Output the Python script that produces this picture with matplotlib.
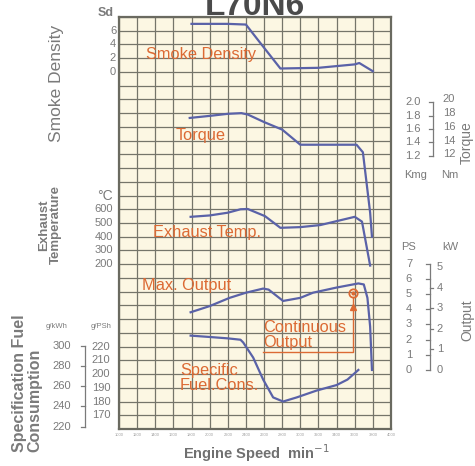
import numpy as np
import matplotlib
matplotlib.use("Agg")
import matplotlib.pyplot as plt
import matplotlib.transforms as mtransforms

plt.rcParams['font.family'] = ['Liberation Sans', 'DejaVu Sans']

# engine speed (min^-1) and values
smoke_rpm = [1800, 2000, 2200, 2400, 2530, 2780, 3200, 3600, 3650, 3800]
smoke_sd = [7.0, 7.0, 7.0, 6.9, 4.7, 0.5, 0.6, 1.1, 1.3, 0.1]

torque_rpm = [1780, 2000, 2200, 2350, 2420, 2600, 2800, 3000, 3620, 3690, 3770, 3790]
torque_nm = [17.3, 17.6, 17.9, 18.0, 17.8, 16.7, 15.6, 13.4, 13.4, 12.3, 3.5, 0.0]

temp_rpm = [1790, 2000, 2200, 2340, 2420, 2610, 2780, 3000, 3220, 3600, 3680, 3770]
temp_c = [545, 555, 575, 600, 602, 550, 465, 470, 485, 545, 510, 190]

output_rpm = [1790, 2000, 2220, 2400, 2590, 2650, 2810, 3000, 3140, 3400, 3640, 3700, 3740, 3770, 3790]
output_kw = [2.8, 3.1, 3.5, 3.75, 3.95, 3.9, 3.35, 3.5, 3.75, 4.0, 4.2, 4.15, 3.5, 2.1, 0.0]

fuel_rpm = [1790, 2000, 2200, 2340, 2370, 2480, 2590, 2700, 2810, 2960, 3180, 3400, 3520, 3640]
fuel_gpsh = [228, 227, 226, 225, 223, 212, 196, 183, 180, 183, 188, 192, 196, 203]

cont_rpm = 3580
cont_kw = 3.75
cont_base_kw = 0.85
cont_left_rpm = 2590

x_ticks = list(range(1000, 4001, 200))
smoke_ticks = [6, 4, 2, 0]
temp_ticks = [600, 500, 400, 300, 200]
kgm_ticks = [2.0, 1.8, 1.6, 1.4, 1.2]
nm_ticks = [20, 18, 16, 14, 12]
ps_ticks = [7, 6, 5, 4, 3, 2, 1, 0]
kw_ticks = [5, 4, 3, 2, 1, 0]
gkwh_ticks = [300, 280, 260, 240, 220]
gpsh_ticks = [220, 210, 200, 190, 180, 170]

W, H = 475, 466
line_c = '#5a62a8'
orange = '#dc6a34'
gray = '#7a7a7a'

fig = plt.figure(figsize=(W / 100, H / 100), dpi=100)
fig.patch.set_facecolor('white')

def fx(px):
    return px / W

def fy(py):
    return 1 - py / H

gl, gr, gt, gb = 119, 391, 17, 429
ax = fig.add_axes([fx(gl), fy(gb), (gr - gl) / W, (gb - gt) / H])
ax.set_facecolor('#fcf7e3')
ax.set_xlim(1000, 4000)
ax.set_ylim(0, 30)
ax.set_xticks(x_ticks)
ax.set_yticks(range(0, 31))
ax.grid(True, color='#75756a', lw=0.9)
ax.set_axisbelow(True)
ax.tick_params(length=0, labelleft=False)
ax.set_xticklabels([str(t) for t in x_ticks], fontsize=3, color='#a0a0a0')
ax.tick_params(axis='x', pad=3)
for s in ax.spines.values():
    s.set_color('#6a6a60')
    s.set_linewidth(1.6)


def overlay(lo, hi):
    a = ax.twinx()
    a.set_ylim(lo, hi)
    a.set_xlim(1000, 4000)
    a.axis('off')
    return a

# each scale mapped onto the grid rows
ax_s = overlay(-52, 8)          # smoke: row 26 = 0, 2 per row
ax_t = overlay(-28, 32)         # torque Nm: row 14 = 0
ax_e = overlay(-1000, 2000)     # exhaust degC: row 10 = 0
ax_o = overlay(-4.3 / 1.5, (30 - 4.3) / 1.5)  # output kW
ax_f = overlay(160, 460)        # fuel g/PSh

for a, xs, ys in [(ax_s, smoke_rpm, smoke_sd), (ax_t, torque_rpm, torque_nm),
                  (ax_e, temp_rpm, temp_c), (ax_o, output_rpm, output_kw),
                  (ax_f, fuel_rpm, fuel_gpsh)]:
    a.plot(xs, ys, color=line_c, lw=1.6, solid_joinstyle='round', clip_on=False)

# continuous output marker
ax_o.plot([cont_left_rpm, cont_rpm, cont_rpm], [cont_base_kw, cont_base_kw, cont_kw - 0.2],
          color=orange, lw=1.0)
ax_o.plot([cont_rpm], [3.05], marker='^', ms=5, color=orange)
ax_o.plot([cont_rpm], [cont_kw], marker='o', ms=6, mfc='none', mec=orange, mew=1.3)
ax_o.plot([cont_rpm], [cont_kw], marker='o', ms=2, color=orange)

# orange curve labels
lab = dict(color=orange, fontsize=11.8)
ax_s.text(1904, 2.6, 'Smoke Density', ha='center', va='center', **lab)
ax_t.text(1904, 14.8, 'Torque', ha='center', va='center', **lab)
ax_e.text(1970, 428, 'Exhaust Temp.', ha='center', va='center', **lab)
ax_o.text(1750, 4.1, 'Max. Output', ha='center', va='center', **lab)
ax_o.text(2590, 0.95, 'Continuous\nOutput', ha='left', va='bottom', linespacing=1.0, **lab)
ax_f.text(1673, 197, 'Specific\nFuel.Cons.', ha='left', va='center', linespacing=1.0, **lab)


def xa(px):
    return (px - gl) / (gr - gl)


num = dict(fontsize=8, color=gray, ha='center', va='center')

def tick_labels(a, px, vals, texts=None, conv=1.0):
    tr = mtransforms.blended_transform_factory(ax.transAxes, a.transData)
    for i, v in enumerate(vals):
        t = texts[i] if texts else str(v)
        a.text(xa(px), v * conv, t, transform=tr, clip_on=False, **num)


def bracket(a, px, top, bot, lticks, rticks=()):
    tr = mtransforms.blended_transform_factory(ax.transAxes, a.transData)
    a.plot([xa(px), xa(px)], [bot, top], transform=tr, color=gray, lw=0.9, clip_on=False)
    for v in lticks:
        a.plot([xa(px - 4), xa(px)], [v, v], transform=tr, color=gray, lw=0.9, clip_on=False)
    for v in rticks:
        a.plot([xa(px), xa(px + 3)], [v, v], transform=tr, color=gray, lw=0.9, clip_on=False)

# left scales
tick_labels(ax_s, 113, smoke_ticks)
tick_labels(ax_e, 104, temp_ticks)
tick_labels(ax_f, 62, gkwh_ticks, conv=0.7355)
tick_labels(ax_f, 101, gpsh_ticks)
bracket(ax_f, 85, 300 * 0.7355, 220 * 0.7355, [v * 0.7355 for v in gkwh_ticks])

# right scales
tick_labels(ax_t, 413, kgm_ticks, texts=['%.1f' % v for v in kgm_ticks], conv=9.80665)
tick_labels(ax_t, 449, nm_ticks)
bracket(ax_t, 433, 2.0 * 9.80665, 1.2 * 9.80665, [v * 9.80665 for v in kgm_ticks])
tick_labels(ax_o, 409, ps_ticks, conv=0.7355)
tick_labels(ax_o, 440, kw_ticks)
bracket(ax_o, 430, 7 * 0.7355, 0, [v * 0.7355 for v in ps_ticks], kw_ticks[1:-1])

# headings
fig.text(fx(106), fy(13), 'Sd', fontsize=9, color=gray, ha='center', va='center', fontweight='bold')
fig.text(fx(105), fy(196), '°C', fontsize=10, color=gray, ha='center', va='center')
fig.text(fx(57), fy(327), 'g/kWh', fontsize=5.5, color=gray, ha='center', va='center')
fig.text(fx(101), fy(327), 'g/PSh', fontsize=5.5, color=gray, ha='center', va='center')
fig.text(fx(416), fy(175), 'Kmg', fontsize=8, color=gray, ha='center', va='center')
fig.text(fx(450), fy(175), 'Nm', fontsize=8, color=gray, ha='center', va='center')
fig.text(fx(409), fy(247), 'PS', fontsize=8, color=gray, ha='center', va='center')
fig.text(fx(450), fy(247), 'kW', fontsize=8, color=gray, ha='center', va='center')

fig.text(fx(57), fy(83), 'Smoke Density', rotation=90, fontsize=12.5, color=gray,
         ha='center', va='center')
fig.text(fx(50), fy(225), 'Exhaust\nTemperature', rotation=90, fontsize=9.5, color=gray,
         ha='center', va='center', fontweight='bold', linespacing=1.05)
fig.text(fx(27), fy(452), 'Specification Fuel\nConsumption', rotation=90, fontsize=11.5,
         color=gray, ha='center', va='bottom', fontweight='bold', multialignment='left',
         linespacing=1.0)
fig.text(fx(467), fy(143), 'Torque', rotation=90, fontsize=10, color=gray,
         ha='center', va='center')
fig.text(fx(467), fy(320), 'Output', rotation=90, fontsize=10, color=gray,
         ha='center', va='center')
fig.text(fx(257), fy(453), r'Engine Speed  min$^{-1}$', fontsize=10.5, color='#707070',
         ha='center', va='center', fontweight='bold')
fig.text(fx(255), fy(15), 'L70N6', fontsize=24, color='#4a4a4a', ha='center',
         va='baseline', fontweight='bold')

fig.savefig('out.png', dpi=100)
